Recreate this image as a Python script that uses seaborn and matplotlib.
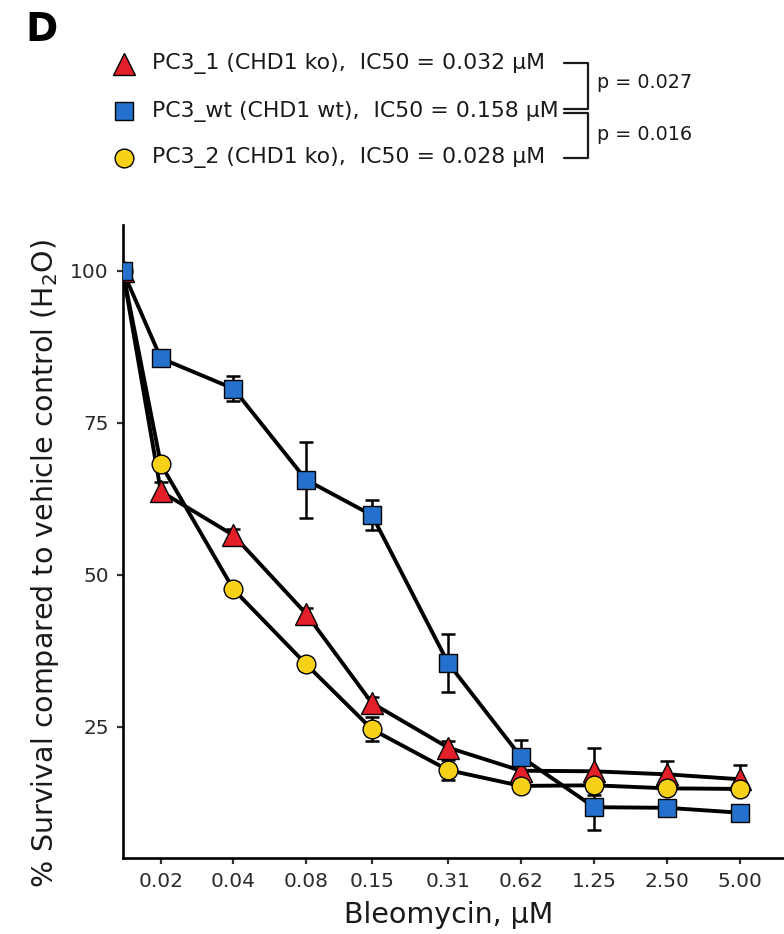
import matplotlib
matplotlib.use("Agg")
import matplotlib.pyplot as plt
from matplotlib.lines import Line2D
import seaborn as sns
import pandas as pd
import numpy as np

# ---------------- data ----------------
conc = [0.0139, 0.02, 0.04, 0.08, 0.15, 0.31, 0.62, 1.25, 2.50, 5.00]
tick_conc = [0.02, 0.04, 0.08, 0.15, 0.31, 0.62, 1.25, 2.50, 5.00]
tick_labels = ["0.02", "0.04", "0.08", "0.15", "0.31", "0.62", "1.25", "2.50", "5.00"]

pc3_1_mean = [100, 63.7, 56.5, 43.6, 28.9, 21.6, 17.8, 17.7, 17.2, 16.4]
pc3_1_sd   = [0.5, 1.5, 1.0, 1.0, 1.0, 1.0, 1.5, 3.9, 2.2, 2.4]
pc3_2_mean = [100, 68.2, 47.6, 35.3, 24.6, 17.9, 15.3, 15.4, 14.9, 14.8]
pc3_2_sd   = [0.5, 1.0, 1.0, 1.0, 2.0, 1.6, 1.0, 1.0, 1.0, 0.8]
pc3_wt_mean = [100, 85.6, 80.6, 65.6, 59.8, 35.5, 20.1, 11.8, 11.7, 10.9]
pc3_wt_sd   = [0.5, 1.2, 2.1, 6.3, 2.5, 4.8, 2.8, 3.7, 1.2, 0.6]

series_names = ["PC3_1", "PC3_2", "PC3_wt"]
legend_labels = {
    "PC3_1": "PC3_1 (CHD1 ko),  IC50 = 0.032 μM",
    "PC3_wt": "PC3_wt (CHD1 wt),  IC50 = 0.158 μM",
    "PC3_2": "PC3_2 (CHD1 ko),  IC50 = 0.028 μM",
}
legend_order = ["PC3_1", "PC3_wt", "PC3_2"]
p_values = ["p = 0.027", "p = 0.016"]

means = {"PC3_1": pc3_1_mean, "PC3_2": pc3_2_mean, "PC3_wt": pc3_wt_mean}
sds = {"PC3_1": pc3_1_sd, "PC3_2": pc3_2_sd, "PC3_wt": pc3_wt_sd}

rows = []
for s in series_names:
    for c, m, e in zip(conc, means[s], sds[s]):
        rows.append({"series": s, "conc": c, "mean": m, "sd": e})
df = pd.DataFrame(rows)

# ---------------- style ----------------
colors = {"PC3_1": "#E3202A", "PC3_2": "#F7D117", "PC3_wt": "#2470CC"}
markers = {"PC3_1": "^", "PC3_2": "o", "PC3_wt": "s"}
msizes = {"PC3_1": 16, "PC3_2": 13.5, "PC3_wt": 13}

sns.set_theme(style="ticks")
plt.rcParams["font.family"] = ["DejaVu Sans"]

W, H = 784, 934
fig = plt.figure(figsize=(W / 100, H / 100), dpi=100)
ax_left, ax_right, ax_bottom, ax_top = 122.7, 784, 858.3, 225
ax = fig.add_axes([ax_left / W, 1 - ax_bottom / H, (ax_right - ax_left) / W,
                   (ax_bottom - ax_top) / H])

# error bars first
for s in series_names:
    d = df[df.series == s]
    ax.errorbar(d["conc"], d["mean"], yerr=d["sd"], fmt="none", ecolor="black",
                elinewidth=1.8, capsize=4.7, capthick=1.8, zorder=1)
# lines
for s in series_names:
    d = df[df.series == s]
    sns.lineplot(data=d, x="conc", y="mean", color="black", lw=2.8, ax=ax,
                 zorder=2, sort=False, estimator=None)
# points
for i, s in enumerate(series_names):
    d = df[df.series == s]
    ax.plot(d["conc"], d["mean"], ls="none", marker=markers[s], ms=msizes[s],
            mfc=colors[s], mec="black", mew=1.0, zorder=3 + i)

ax.set_xscale("log", base=2)
ax.set_xlim(0.0139, 7.64)
ax.set_ylim(3.4, 107.5)
ax.set_xticks(tick_conc)
ax.set_xticklabels(tick_labels)
ax.xaxis.set_minor_locator(matplotlib.ticker.NullLocator())
ax.set_yticks([25, 50, 75, 100])
ax.set_yticklabels(["25", "50", "75", "100"])

for sp in ["top", "right"]:
    ax.spines[sp].set_visible(False)
for sp in ["left", "bottom"]:
    ax.spines[sp].set_linewidth(1.9)
    ax.spines[sp].set_color("black")
ax.tick_params(axis="both", length=4, width=1.6, color="#333333",
               labelsize=14.5, labelcolor="#2b2b2b", pad=6)
ax.set_xlabel("Bleomycin, μM", fontsize=20.5, color="#1a1a1a")
ax.xaxis.set_label_coords((449 - ax_left) / (ax_right - ax_left),
                          -(915 - ax_bottom) / (ax_bottom - ax_top))
ax.xaxis.label.set_va("center")
ax.set_ylabel(r"% Survival compared to vehicle control (H$_\mathregular{2}$O)",
              fontsize=20.5, color="#1a1a1a")
ax.yaxis.set_label_coords(-(ax_left - 45) / (ax_right - ax_left),
                          (ax_bottom - 563) / (ax_bottom - ax_top))
ax.yaxis.label.set_va("center")

# ---------------- legend (manual) ----------------
row_y = {"PC3_1": 64, "PC3_wt": 111, "PC3_2": 158}
for s in legend_order:
    y = 1 - row_y[s] / H
    fig.add_artist(Line2D([124 / W], [y], transform=fig.transFigure, ls="none",
                          marker=markers[s], ms=msizes[s], mfc=colors[s],
                          mec="black", mew=1.0))
    fig.text(152 / W, y, legend_labels[s], fontsize=15.8, color="#1a1a1a",
             va="center", ha="left")

def fx(v):
    return np.array(v) / W

def fy(v):
    return 1 - np.array(v) / H

fig.add_artist(Line2D(fx([564, 588, 588, 564]), fy([63, 63, 109, 109]),
                      transform=fig.transFigure, color="#1a1a1a", lw=1.6))
fig.add_artist(Line2D(fx([564, 588, 588, 564]), fy([113, 113, 158, 158]),
                      transform=fig.transFigure, color="#1a1a1a", lw=1.6))
fig.text(597 / W, 1 - 83 / H, p_values[0], fontsize=13.8, color="#1a1a1a", va="center")
fig.text(597 / W, 1 - 134 / H, p_values[1], fontsize=13.8, color="#1a1a1a", va="center")

fig.text(25 / W, 1 - 30 / H, "D", fontsize=28, fontweight="bold", color="black",
         va="center", ha="left")

fig.savefig("out.png", dpi=100)
